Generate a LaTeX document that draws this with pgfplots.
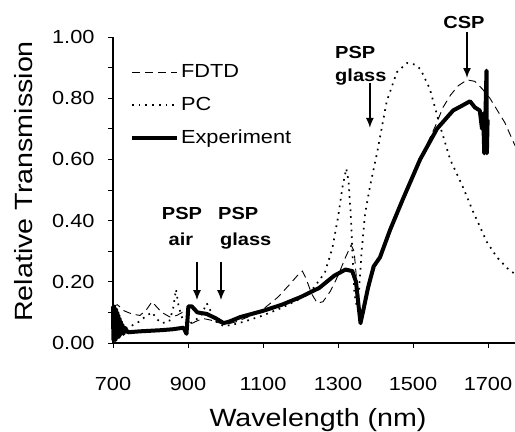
\documentclass[border=0pt]{standalone}
\usepackage{fontspec}
\setmainfont{Liberation Sans}[FakeStretch=1.15]
\usepackage{pgfplots}
\pgfplotsset{compat=1.18}
\usetikzlibrary{arrows.meta}

\pgfplotsset{
  fdtd/.style={black, line width=0.9bp, dash pattern=on 8bp off 5bp},
  pc/.style={black, line width=1.7bp, dash pattern=on 1.7bp off 5bp},
  expt/.style={black, line width=4bp, line join=round},
}

\begin{document}
\begin{tikzpicture}
\begin{axis}[
  scale only axis, width=402bp, height=306bp,
  xmin=700, xmax=1772, ymin=0, ymax=1,
  axis x line=bottom, axis y line=left,
  axis line style={-, line width=1.2bp},
  clip=false,
  xtick={700,900,1100,1300,1500,1700},
  ytick={0,0.2,0.4,0.6,0.8,1},
  minor ytick={0.1,0.3,0.5,0.7,0.9},
  tick align=outside,
  tick style={black, line width=0.8bp},
  major tick length=5bp, minor tick length=5bp,
  /pgf/number format/assume math mode=true,
  xticklabels={700,900,1100,1300,1500,1700},
  x tick label style={font=\fontsize{19}{22}\selectfont, anchor=north,
    yshift=-26bp},
  y tick label style={font=\fontsize{19}{22}\selectfont, xshift=-10bp,
    /pgf/number format/.cd, fixed, fixed zerofill, precision=2},
  xlabel={Wavelength (nm)},
  ylabel={Relative Transmission},
  every axis x label/.style={at={(axis description cs:0.51,0)}, anchor=base,
    yshift=-83bp, font=\fontsize{25}{28}\selectfont},
  every axis y label/.style={at={(axis description cs:-0.2,0.528)}, rotate=90,
    anchor=base, font=\fontsize{25}{28}\selectfont},
  legend image code/.code={\draw[#1] (0bp,0bp) -- (45bp,0bp);},
  legend cell align=left,
  legend style={at={(axis description cs:0.042,0.94)}, anchor=north west,
    draw=none, fill=none, inner sep=0bp, row sep=0bp,
    font=\fontsize{19}{22}\selectfont,
    nodes={inner sep=2bp, text height=14bp, text depth=4bp, minimum height=33bp}},
]

\addplot[fdtd] coordinates {
(700,0.12)(712,0.125)(730,0.105)(750,0.095)(772,0.09)(790,0.11)(804,0.135)
(815,0.12)(830,0.10)(852,0.085)(870,0.09)(885,0.10)(898,0.09)(905,0.06)
(920,0.07)(940,0.08)(960,0.075)(985,0.065)(1000,0.06)(1030,0.07)(1060,0.085)
(1100,0.11)(1140,0.15)(1170,0.19)(1195,0.225)(1205,0.235)(1215,0.21)
(1230,0.16)(1245,0.13)(1260,0.135)(1280,0.17)(1300,0.22)(1320,0.28)
(1335,0.32)(1343,0.30)(1350,0.20)(1357,0.09)(1362,0.065)(1370,0.11)
(1385,0.20)(1400,0.25)(1420,0.31)(1440,0.37)(1470,0.46)(1500,0.55)
(1530,0.63)(1560,0.71)(1580,0.77)(1600,0.81)(1620,0.84)(1644,0.86)
(1665,0.855)(1685,0.83)(1705,0.80)(1725,0.76)(1745,0.72)(1772,0.645)
};
\addlegendentry{FDTD}

\addplot[pc] coordinates {
(700,0.06)(715,0.05)(740,0.05)(770,0.07)(790,0.09)(805,0.10)(815,0.08)
(830,0.065)(850,0.07)(860,0.11)(868,0.175)(875,0.12)(885,0.08)(900,0.06)
(915,0.07)(935,0.09)(950,0.13)(958,0.11)(975,0.07)(995,0.055)(1020,0.06)
(1050,0.07)(1100,0.09)(1150,0.115)(1200,0.145)(1235,0.18)(1265,0.23)
(1285,0.31)(1300,0.41)(1312,0.51)(1322,0.57)(1328,0.53)(1334,0.42)
(1339,0.28)(1344,0.16)(1350,0.12)(1356,0.17)(1363,0.30)(1372,0.42)
(1385,0.51)(1404,0.62)(1430,0.79)(1457,0.885)(1484,0.915)(1505,0.91)
(1520,0.895)(1545,0.83)(1572,0.71)(1599,0.60)(1633,0.51)(1660,0.43)
(1697,0.33)(1724,0.28)(1751,0.245)(1772,0.225)
};
\addlegendentry{PC}

\addplot[expt] coordinates {
(700,0.12)(701,0.01)(702.5,0.12)(704,0.01)(705.5,0.11)(707,0.01)(708.5,0.11)
(710,0.02)(711.5,0.10)(713,0.02)(714.5,0.09)(716,0.02)(717.5,0.08)(719,0.03)
(721,0.07)(723,0.03)(725,0.06)(728,0.03)(731,0.05)(740,0.035)(770,0.038)
(800,0.04)(830,0.042)(860,0.045)(888,0.05)(896,0.03)(901,0.12)(910,0.12)
(925,0.10)(950,0.095)(975,0.08)(995,0.065)(1010,0.07)(1040,0.085)(1070,0.095)
(1100,0.105)(1150,0.125)(1200,0.15)(1250,0.18)(1290,0.22)(1320,0.24)
(1338,0.235)(1348,0.20)(1355,0.12)(1360,0.065)(1368,0.11)(1380,0.18)
(1395,0.25)(1412,0.28)(1439,0.37)(1473,0.47)(1519,0.60)(1564,0.70)
(1607,0.76)(1630,0.775)(1652,0.79)(1665,0.77)(1678,0.76)(1684,0.70)
(1687,0.75)(1690,0.62)(1693,0.74)(1696,0.89)(1697,0.62)(1699,0.73)
};
\addlegendentry{Experiment}

% annotations
\begin{scope}[every node/.style={inner sep=0bp, font=\fontsize{17.5}{21}\selectfont\bfseries}]
\node[anchor=base] at (axis cs:884,0.402) {PSP};
\node[anchor=base] at (axis cs:881,0.317) {air};
\node[anchor=base west] at (axis cs:980,0.402) {PSP};
\node[anchor=base west] at (axis cs:985,0.317) {glass};
\node[anchor=base west] at (axis cs:1292,0.931) {PSP};
\node[anchor=base west] at (axis cs:1292,0.853) {glass};
\node[anchor=base] at (axis cs:1636,1.029) {CSP};
\end{scope}
\draw[-{Latex[length=10bp,width=8bp]}, line width=1.5bp] (axis cs:924,0.265) -- (axis cs:924,0.14);
\draw[-{Latex[length=10bp,width=8bp]}, line width=1.5bp] (axis cs:988,0.265) -- (axis cs:988,0.14);
\draw[-{Latex[length=10bp,width=8bp]}, line width=1.5bp] (axis cs:1385,0.85) -- (axis cs:1385,0.703);
\draw[-{Latex[length=10bp,width=8bp]}, line width=1.5bp] (axis cs:1644,1.016) -- (axis cs:1644,0.866);
\end{axis}
\pgfresetboundingbox
\path ([shift={(-113bp,-89bp)}]current axis.south west) rectangle ++(515bp,432bp);
\end{tikzpicture}
\end{document}
